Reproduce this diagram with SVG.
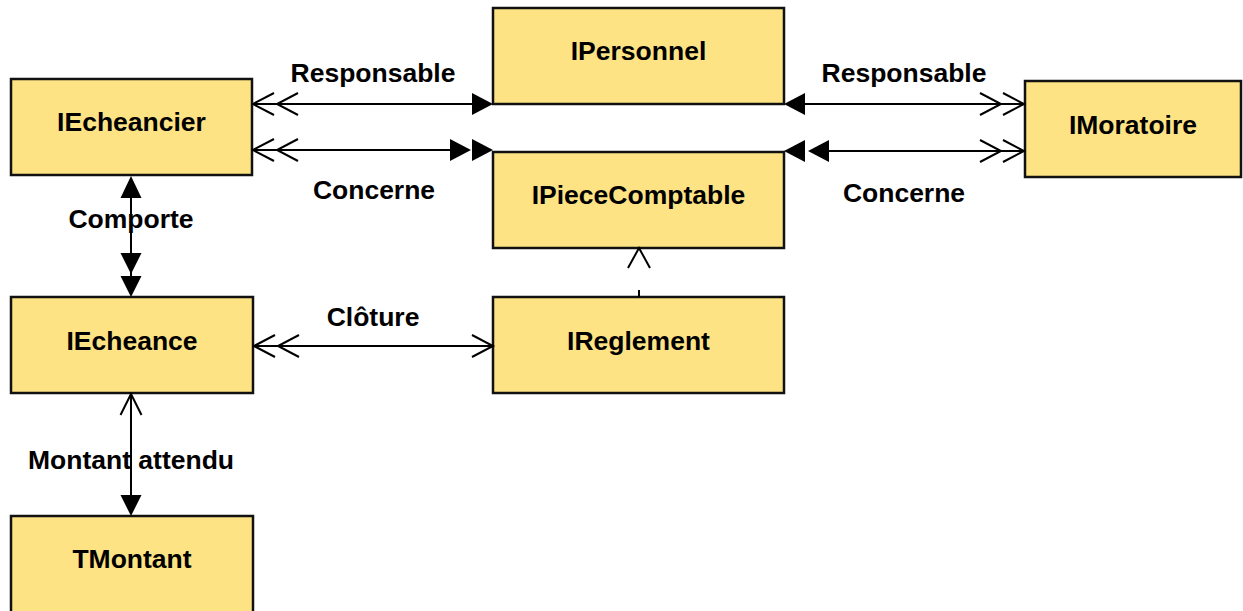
<svg xmlns="http://www.w3.org/2000/svg" width="1243" height="611" viewBox="0 0 1243 611">
<style>
.box{fill:#FDE383;stroke:#111;stroke-width:2.5}
.t{font-family:"Liberation Sans",Arial,sans-serif;font-weight:bold;font-size:26.5px;fill:#000;text-anchor:middle}
.ln{stroke:#000;stroke-width:2;fill:none}
.open{stroke:#000;stroke-width:2;fill:none}
.fill{fill:#000;stroke:none}
</style>
<rect width="1243" height="611" fill="#fff"/>
<g id="IEcheancier"><rect class="box" x="11" y="79" width="241" height="96"/><text class="t" x="131.5" y="131">IEcheancier</text></g>
<g id="IPersonnel"><rect class="box" x="493" y="8" width="291" height="96"/><text class="t" x="638.5" y="60">IPersonnel</text></g>
<g id="IPieceComptable"><rect class="box" x="493" y="152" width="291" height="96"/><text class="t" x="638.5" y="204">IPieceComptable</text></g>
<g id="IMoratoire"><rect class="box" x="1025" y="81" width="216" height="96"/><text class="t" x="1133" y="134">IMoratoire</text></g>
<g id="IEcheance"><rect class="box" x="11" y="297" width="242" height="96"/><text class="t" x="132" y="350">IEcheance</text></g>
<g id="IReglement"><rect class="box" x="493" y="297" width="291" height="96"/><text class="t" x="638.5" y="350">IReglement</text></g>
<g id="TMontant"><rect class="box" x="11" y="516" width="242" height="100"/><text class="t" x="132" y="568">TMontant</text></g>
<g id="connectors">
  <line class="ln" x1="252" y1="104" x2="480" y2="104"/>
  <polyline class="open" points="274,93 253,104 274,115"/>
  <polyline class="open" points="298,93 277,104 298,115"/>
  <polygon class="fill" points="472,93 493,104 472,115"/>
  <text class="t" x="373" y="82">Responsable</text>
  <line class="ln" x1="252" y1="150" x2="460" y2="150"/>
  <polyline class="open" points="274,139 253,150 274,161"/>
  <polyline class="open" points="298,139 277,150 298,161"/>
  <polygon class="fill" points="450,139 471,150 450,161"/>
  <polygon class="fill" points="472,139 493,150 472,161"/>
  <text class="t" x="374" y="199">Concerne</text>
  <line class="ln" x1="796" y1="104" x2="1024" y2="104"/>
  <polygon class="fill" points="805,93 784,104 805,115"/>
  <polyline class="open" points="980,93 1001,104 980,115"/>
  <polyline class="open" points="1003,93 1024,104 1003,115"/>
  <text class="t" x="904" y="82">Responsable</text>
  <line class="ln" x1="815" y1="151" x2="1024" y2="151"/>
  <polygon class="fill" points="805,140 784,151 805,162"/>
  <polygon class="fill" points="829,140 808,151 829,162"/>
  <polyline class="open" points="980,140 1001,151 980,162"/>
  <polyline class="open" points="1003,140 1024,151 1003,162"/>
  <text class="t" x="904" y="202">Concerne</text>
  <line class="ln" x1="131" y1="190" x2="131" y2="285"/>
  <polygon class="fill" points="120.5,198 131,176 141.5,198"/>
  <polygon class="fill" points="120.5,253 131,274 141.5,253"/>
  <polygon class="fill" points="120.5,276 131,297 141.5,276"/>
  <text class="t" x="131" y="228">Comporte</text>
  <line class="ln" x1="253" y1="346" x2="492" y2="346"/>
  <polyline class="open" points="275,335 254,346 275,357"/>
  <polyline class="open" points="299,335 278,346 299,357"/>
  <polyline class="open" points="472,335 493,346 472,357"/>
  <text class="t" x="373" y="326">Clôture</text>
  <polyline class="open" points="628,268 639,248 650,268"/>
  <line class="ln" x1="639" y1="290" x2="639" y2="297"/>
  <line class="ln" x1="131" y1="393" x2="131" y2="500"/>
  <polyline class="open" points="120.5,415 131,394 141.5,415"/>
  <polygon class="fill" points="120.5,495 131,516 141.5,495"/>
  <text class="t" x="131" y="469">Montant attendu</text>
</g>
</svg>
